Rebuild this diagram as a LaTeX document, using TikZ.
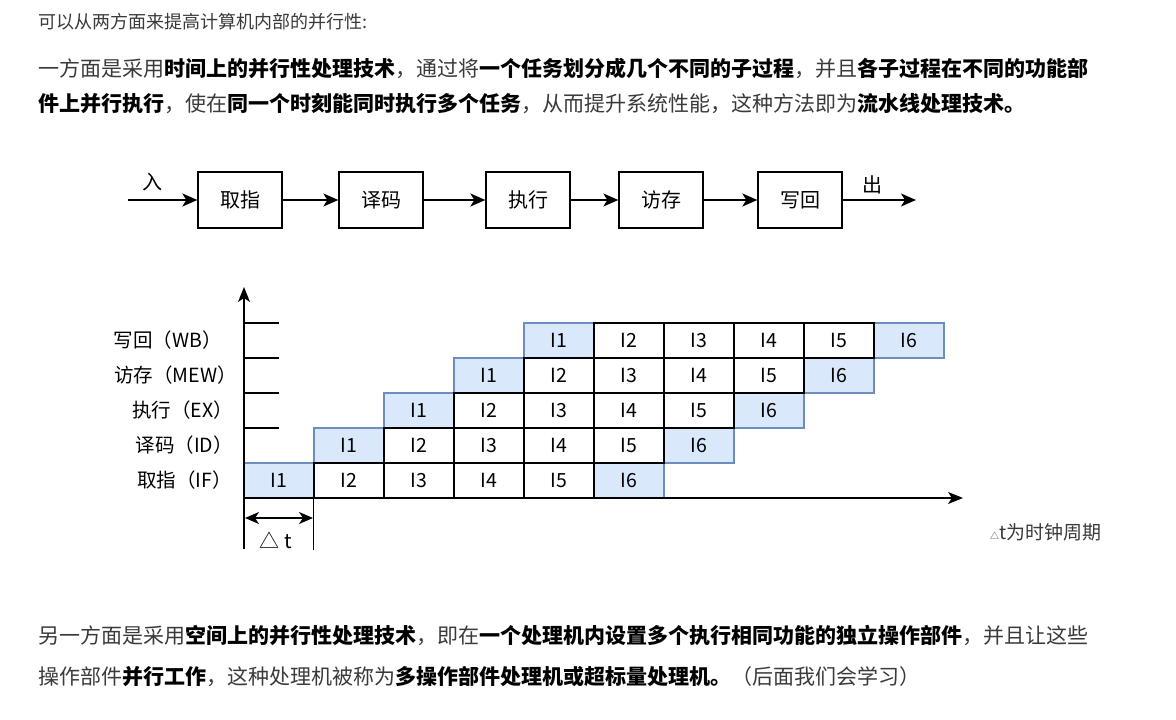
\documentclass[tikz,border=0pt]{standalone}
\usepackage{fontspec}
\setmainfont{Noto Sans CJK SC}
\usepackage{xcolor}
\usepackage{tikz}
\usetikzlibrary{arrows.meta, positioning}

\definecolor{bodytext}{HTML}{3A3A3A}
\definecolor{cellfill}{HTML}{DAE8FC}
\definecolor{cellline}{HTML}{6C8EBF}

\begin{document}
\begin{tikzpicture}[
    x=1pt, y=-1pt,
    stagebox/.style = {draw=black, line width=1.3pt, minimum width=84pt, minimum height=56pt, inner sep=0pt, font=\fontsize{20}{20}\selectfont},
    cell/.style = {draw=black, line width=1.2pt, minimum width=70pt, minimum height=35pt, inner sep=0pt, font=\fontsize{19.5}{19.5}\selectfont},
    edgecell/.style = {cell, draw=cellline, fill=cellfill},
    rowlabel/.style = {anchor=east, inner sep=0pt, font=\fontsize{19.5}{19.5}\selectfont},
    para/.style = {anchor=west, inner sep=0pt, text=bodytext, font=\fontsize{21}{21}\selectfont},
    flow/.style = {-{Stealth[length=15pt, width=13pt, inset=4pt]}, line width=1.7pt},
    axisline/.style = {-{Stealth[length=15pt, width=12pt, inset=4pt]}, line width=1.4pt}
]

\fill[white] (0,0) rectangle (1176,720);
\useasboundingbox (0,0) rectangle (1176,720);

\node [para, font=\fontsize{18}{18}\selectfont] (intro) at (38,22) {可以从两方面来提高计算机内部的并行性:};
\node [para] (timeA) at (38,68) {一方面是采用\textbf{\color{black}时间上的并行性处理技术}，通过将\textbf{\color{black}一个任务划分成几个不同的子过程}，并且\textbf{\color{black}各子过程在不同的功能部}};
\node [para] (timeB) at (38,104) {\textbf{\color{black}件上并行执行}，使在\textbf{\color{black}同一个时刻能同时执行多个任务}，从而提升系统性能，这种方法即为\textbf{\color{black}流水线处理技术。}};

\coordinate (in) at (128,200);
\coordinate (out) at (916,200);
\node [stagebox] (fetch)  at (240,200) {取指};
\node [stagebox] (decode) at (381,200) {译码};
\node [stagebox] (exec)   at (528,200) {执行};
\node [stagebox] (mem)    at (661,200) {访存};
\node [stagebox] (wback)  at (800,200) {写回};
\node [font=\fontsize{20}{20}\selectfont, inner sep=0pt] (inlabel)  at (152,182) {入};
\node [font=\fontsize{20}{20}\selectfont, inner sep=0pt] (outlabel) at (872,185) {出};

\draw[flow] (in) -- (fetch);
\draw[flow] (fetch) -- (decode);
\draw[flow] (decode) -- (exec);
\draw[flow] (exec) -- (mem);
\draw[flow] (mem) -- (wback);
\draw[flow] (wback) -- (out);

\node [rowlabel] (lwb)  at (222,340.5) {写回（WB）};
\node [rowlabel] (lmem) at (237,375.5) {访存（MEW）};
\node [rowlabel] (lex)  at (233,410.5) {执行（EX）};
\node [rowlabel] (lid)  at (233,445.5) {译码（ID）};
\node [rowlabel] (lif)  at (232,480.5) {取指（IF）};

\node [edgecell] (if1)  at (279,480.5) {I1};
\node [edgecell] (if6)  at (629,480.5) {I6};
\node [edgecell] (id1)  at (349,445.5) {I1};
\node [edgecell] (id6)  at (699,445.5) {I6};
\node [edgecell] (ex1)  at (419,410.5) {I1};
\node [edgecell] (ex6)  at (769,410.5) {I6};
\node [edgecell] (mem1) at (489,375.5) {I1};
\node [edgecell] (mem6) at (839,375.5) {I6};
\node [edgecell] (wb1)  at (559,340.5) {I1};
\node [edgecell] (wb6)  at (909,340.5) {I6};

\node [cell] (if2) at (349,480.5) {I2};
\node [cell] (if3) at (419,480.5) {I3};
\node [cell] (if4) at (489,480.5) {I4};
\node [cell] (if5) at (559,480.5) {I5};

\node [cell] (id2) at (419,445.5) {I2};
\node [cell] (id3) at (489,445.5) {I3};
\node [cell] (id4) at (559,445.5) {I4};
\node [cell] (id5) at (629,445.5) {I5};

\node [cell] (ex2) at (489,410.5) {I2};
\node [cell] (ex3) at (559,410.5) {I3};
\node [cell] (ex4) at (629,410.5) {I4};
\node [cell] (ex5) at (699,410.5) {I5};

\node [cell] (mem2) at (559,375.5) {I2};
\node [cell] (mem3) at (629,375.5) {I3};
\node [cell] (mem4) at (699,375.5) {I4};
\node [cell] (mem5) at (769,375.5) {I5};

\node [cell] (wb2) at (629,340.5) {I2};
\node [cell] (wb3) at (699,340.5) {I3};
\node [cell] (wb4) at (769,340.5) {I4};
\node [cell] (wb5) at (839,340.5) {I5};

\coordinate (origin) at (244,498);
\coordinate (ytop) at (244,287);
\coordinate (ybot) at (244,549);
\coordinate (xend) at (963,498);

\draw[axisline] (ybot) -- (ytop);
\draw[axisline] (origin) -- (xend);

\draw[line width=1.3pt] (244,323) -- (279,323);
\draw[line width=1.3pt] (244,358) -- (279,358);
\draw[line width=1.3pt] (244,393) -- (279,393);
\draw[line width=1.3pt] (244,428) -- (279,428);

\coordinate (dtleft) at (245,518);
\coordinate (dtright) at (313,518);
\draw[line width=1.3pt] (if2.south west) -- ++(0,51);
\draw[{Stealth[length=14pt, width=12pt, inset=4pt]}-{Stealth[length=14pt, width=12pt, inset=4pt]}, line width=1.3pt] (dtleft) -- (dtright);
\node [font=\fontsize{20}{20}\selectfont, inner sep=0pt] (dtlabel) at (276,540) {△ t};

\node [anchor=west, inner sep=0pt, font=\fontsize{19}{19}\selectfont, text=bodytext] (clocknote) at (990,532) {{\fontsize{9}{9}\selectfont △}t为时钟周期};

\node [para] (spaceA) at (38,635) {另一方面是采用\textbf{\color{black}空间上的并行性处理技术}，即在\textbf{\color{black}一个处理机内设置多个执行相同功能的独立操作部件}，并且让这些};
\node [para] (spaceB) at (38,677) {操作部件\textbf{\color{black}并行工作}，这种处理机被称为\textbf{\color{black}多操作部件处理机或超标量处理机。}（后面我们会学习）};

\end{tikzpicture}
\end{document}
